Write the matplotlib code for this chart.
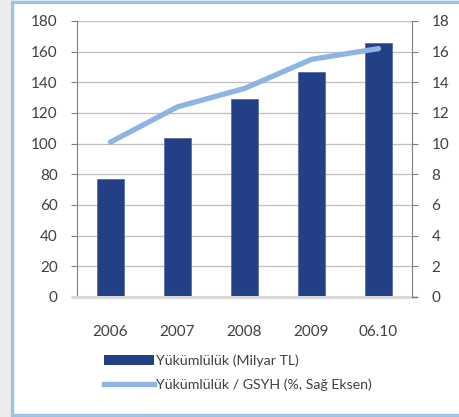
import matplotlib.pyplot as plt
from matplotlib.patches import Rectangle
from matplotlib.lines import Line2D

periods = ["2006", "2007", "2008", "2009", "06.10"]
liabilities = [77, 104, 129, 147, 165.5]          # Milyar TL
liab_to_gdp = [10.1, 12.4, 13.6, 15.5, 16.2]      # %, right axis

bar_color = "#233f86"
line_color = "#8db4e2"
text_color = "#404040"

plt.rcParams['font.family'] = ['Lato', 'DejaVu Sans']

fig = plt.figure(figsize=(4.59, 4.17), dpi=100)
fig.patch.set_facecolor("#ececec")

# white panel with light blue border
W, H = 459, 417
panel = Rectangle((11.5 / W, 1 - 414.5 / H), 1.0, 413 / H,
                  transform=fig.transFigure, facecolor="white",
                  edgecolor="#9dc3e6", linewidth=2.4, zorder=-10)
fig.patches.append(panel)

ax = fig.add_axes([77 / W, 1 - 297 / H, (412 - 77) / W, (297 - 21) / H])
ax.set_facecolor("none")
x = range(len(periods))
ax.bar(x, liabilities, width=0.4, color=bar_color, edgecolor="#5a6fa8",
       linewidth=0.6, zorder=3)
ax.set_xlim(-0.5, len(periods) - 0.5)
ax.set_ylim(0, 180)
ax.set_yticks(range(0, 181, 20))
ax.grid(axis="y", color="#bfbfbf", linewidth=0.9, zorder=0)
ax.set_xticks(list(x))
ax.set_xticklabels(periods)

ax2 = ax.twinx()
ax2.plot(x, liab_to_gdp, color=line_color, linewidth=3.8,
         solid_capstyle="round", zorder=4)
ax2.set_ylim(0, 18)
ax2.set_yticks(range(0, 19, 2))

for a in (ax, ax2):
    for s in ("top", "bottom"):
        a.spines[s].set_visible(False)
    a.spines["left"].set_color("#7f7f7f")
    a.spines["right"].set_color("#7f7f7f")
    a.tick_params(axis="y", colors="#7f7f7f", labelcolor=text_color,
                  labelsize=11, length=4, width=0.8, pad=10)
ax.tick_params(axis="x", length=0, labelsize=11, labelcolor=text_color, pad=20)
ax2.spines["left"].set_visible(False)
ax.spines["right"].set_visible(False)

# light baseline under the bars
ax.axhline(0, xmin=-0.012, xmax=1.012, color="#d9d9d9", linewidth=2.2,
           zorder=5, clip_on=False)

handles = [Rectangle((0, 0), 1, 1, facecolor=bar_color),
           Line2D([], [], color=line_color, linewidth=3.8)]
labels = ["Yükümlülük (Milyar TL)", "Yükümlülük / GSYH (%, Sağ Eksen)"]
fig.legend(handles, labels, loc="upper left",
           bbox_to_anchor=(97 / W, 1 - 347 / H), frameon=False,
           fontsize=10.2, labelcolor=text_color, handlelength=3.5,
           handleheight=0.7, handletextpad=0.2, labelspacing=0.8,
           borderpad=0)

fig.savefig("out.png", dpi=100)
